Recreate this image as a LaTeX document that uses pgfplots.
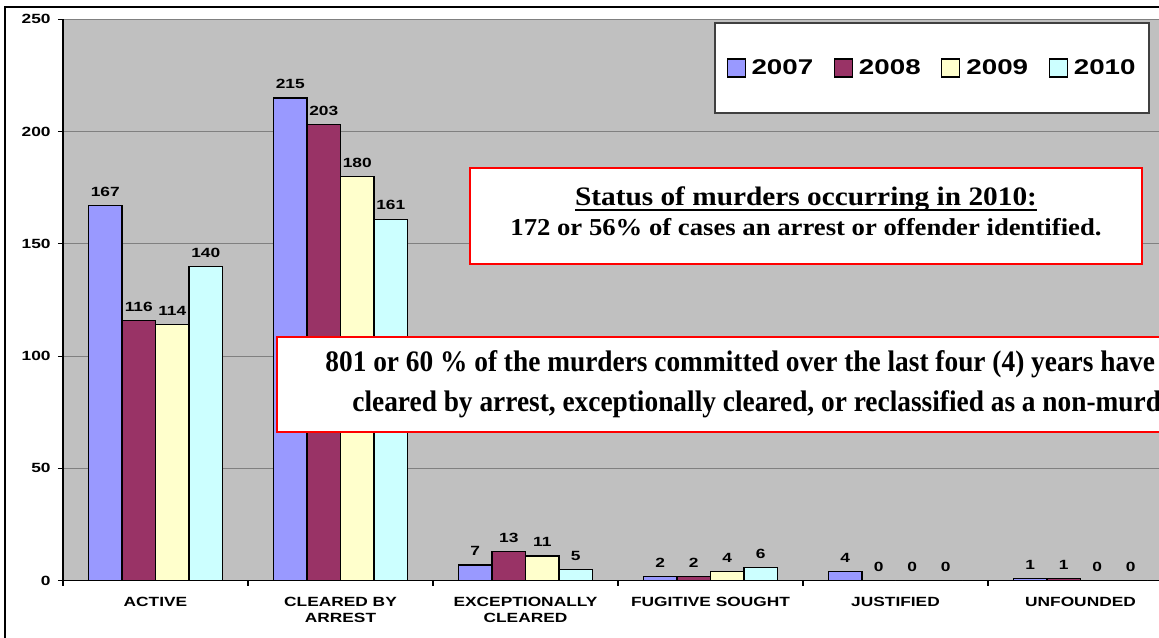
\documentclass[border=0pt]{standalone}
\usepackage{fontspec}
\usepackage{pgfplots}
\pgfplotsset{compat=1.18}
\setmainfont{Liberation Serif}
\newfontfamily\arialw[FakeStretch=1.3]{Liberation Sans}
\newfontfamily\timesw[FakeStretch=1.1]{Liberation Serif}
\newfontfamily\timesn[FakeStretch=0.92]{Liberation Serif}
\newlength\ulw
\newcommand{\thickul}[1]{\settowidth{\ulw}{#1}\rlap{\rule[-4pt]{\ulw}{1.5pt}}#1}
\definecolor{c07}{HTML}{9999FF}
\definecolor{c08}{HTML}{993366}
\definecolor{c09}{HTML}{FFFFCC}
\definecolor{c10}{HTML}{CCFFFF}
\definecolor{bg}{HTML}{C0C0C0}
\definecolor{gridc}{HTML}{808080}
\newcommand{\lab}{\arialw\bfseries\fontsize{10}{12}\selectfont}

\begin{document}
\begin{tikzpicture}[x=0.75pt,y=0.75pt]
\useasboundingbox (0,0) rectangle (1159,638);
\clip (0,0) rectangle (1159,638);
\begin{pgfinterruptboundingbox}
\fill[white] (0,0) rectangle (1159,638);
% outer frame of the chart object
\draw[line width=1.1pt] (5,-10) |- (1180,631);

\begin{axis}[
  at={(47.25pt,43pt)}, anchor=south west,
  scale only axis, width=832.5pt, height=421pt,
  xmin=-0.5, xmax=5.5, ymin=0, ymax=250,
  enlargelimits=false, clip=false,
  axis background/.style={fill=bg, draw=gridc, line width=0.8pt},
  axis lines*=left,
  axis line style={black, line width=0.8pt, -},
  ymajorgrids, major grid style={gridc, line width=0.8pt},
  ytick={0,50,...,250},
  xtick={-0.5,0.5,...,5.5},
  x tick label as interval,
  xticklabels={ACTIVE,{CLEARED BY\\ARREST},{EXCEPTIONALLY\\CLEARED},FUGITIVE SOUGHT,JUSTIFIED,UNFOUNDED},
  tick align=outside, major tick length=3.75pt,
  tick style={black, line width=0.8pt},
  /pgf/number format/assume math mode=true,
  yticklabel style={font=\lab, xshift=-2pt},
  xticklabel style={font=\lab, align=center, yshift=-5pt},
  ybar=0pt,
  nodes near coords,
  every node near coord/.append style={font=\lab, yshift=3pt},
  legend columns=4,
  legend image code/.code={\draw[#1,line width=0.8pt] (0pt,-6.75pt) rectangle (13.5pt,6.75pt);},
  legend style={at={(axis description cs:0.7829,0.9133)}, anchor=center,
    draw=none, fill=none, font=\arialw\bfseries\fontsize{16}{18}\selectfont,
    nodes={inner sep=1.5pt},
    /tikz/every odd column/.append style={column sep=3pt},
    /tikz/every even column/.append style={column sep=14pt}},
]
\addplot[bar width=0.1811, bar shift=-0.2716, fill=c07, draw=black, line width=0.9pt]
  coordinates {(0,167) (1,215) (2,7) (3,2) (4,4) (5,1)};
\addplot[bar width=0.1811, bar shift=-0.0905, fill=c08, draw=black, line width=0.9pt]
  coordinates {(0,116) (1,203) (2,13) (3,2) (4,0) (5,1)};
\addplot[bar width=0.1811, bar shift=0.0905, fill=c09, draw=black, line width=0.9pt]
  coordinates {(0,114) (1,180) (2,11) (3,4) (4,0) (5,0)};
\addplot[bar width=0.1811, bar shift=0.2716, fill=c10, draw=black, line width=0.9pt]
  coordinates {(0,140) (1,161) (2,5) (3,6) (4,0) (5,0)};
\node[draw=black!75, fill=white, line width=0.8pt, minimum width=325.5pt, minimum height=67.5pt]
  at (axis description cs:0.7829,0.9133) {};
\legend{2007,2008,2009,2010}
\end{axis}

% text box: 2010 status
\node[draw=red, fill=white, line width=1.3pt, minimum width=504pt, minimum height=72pt] at (806,422) {};
\node[anchor=base, font=\timesw\bfseries\fontsize{20}{24}\selectfont, inner sep=0pt] at (806,432)
  {\thickul{Status of murders occurring in 2010:}};
\node[anchor=base, font=\timesw\bfseries\fontsize{18.2}{22}\selectfont, inner sep=0pt] at (806,402)
  {172 or 56\% of cases an arrest or offender identified.};
% text box: four-year clearance
\draw[red, fill=white, line width=1.3pt] (277,206) rectangle (1300,301);
\node[align=center, font=\timesn\bfseries\fontsize{22.3}{30}\selectfont, inner sep=0pt] at (771,253.5)
  {801 or 60 \% of the murders committed over the last four (4) years have been\\cleared by arrest, exceptionally cleared, or reclassified as a non-murder.};
\end{pgfinterruptboundingbox}
\end{tikzpicture}
\end{document}
